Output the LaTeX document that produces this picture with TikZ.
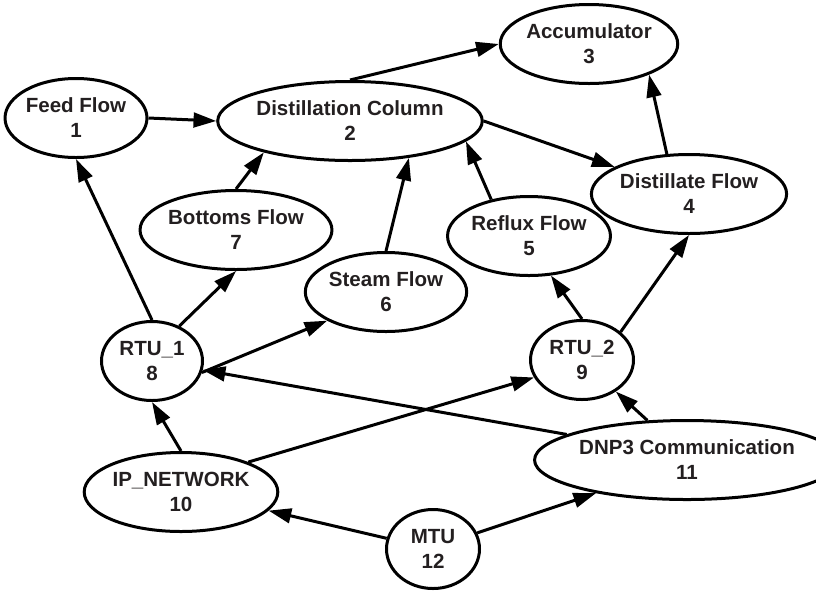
\documentclass[tikz,border=0pt]{standalone}
\usepackage{fontspec}
\setmainfont{Liberation Sans}
\usetikzlibrary{shapes.geometric,arrows.meta}
\definecolor{txt}{RGB}{35,31,32}
\begin{document}
\begin{tikzpicture}[x=0.75pt,y=-0.75pt,
  st/.style 2 args={ellipse, draw, line width=2.25pt, inner sep=0pt, align=center,
    font=\bfseries\fontsize{15.4}{18.75}\selectfont, text=txt,
    minimum width={(#1-3)*0.75pt}, minimum height={(#2-3)*0.75pt}},
  ar/.style={-{Triangle[length=17pt,width=11pt]}, line width=2.25pt}]
\useasboundingbox (0,0) rectangle (816,594);
\node[st={140}{82}] (n1) at (76,118) {Feed Flow\\1};
\node[st={228}{82}] (n2) at (350,121) {Distillation Column\\2};
\node[st={166}{82}] (n3) at (589,44) {Accumulator\\3};
\node[st={178}{82}] (n4) at (689,194) {Distillate Flow\\4};
\node[st={156}{82}] (n5) at (529,236) {Reflux Flow\\5};
\node[st={154}{82}] (n6) at (386,292) {Steam Flow\\6};
\node[st={176}{82}] (n7) at (236,230) {Bottoms Flow\\7};
\node[st={104}{82}] (n8) at (152,361) {RTU\_1\\8};
\node[st={106}{82}] (n9) at (582,360) {RTU\_2\\9};
\node[st={177}{82}] (n10) at (181,492) {IP\_NETWORK\\10};
\node[st={256}{82}] (n11) at (687,460) {DNP3 Communication\\11};
\node[st={96}{82}] (n12) at (433,549) {MTU\\12};
\draw[ar] (n1.east) -- (n2.west);
\draw[ar] (n2.north) -- (n3.west);
\draw[ar] (n2.east) -- (n4.160);
\draw[ar] (n4.119) -- (n3.-27);
\draw[ar] (n7.north) -- (n2.200);
\draw[ar] (n6.north) -- (n2.-32);
\draw[ar] (n5.136) -- (n2.-10);
\draw[ar] (n8.north) -- (n1.south);
\draw[ar] (n8.52) -- (n7.south);
\draw[ar] (n8.-13) -- (n6.206);
\draw[ar] (n9.north) -- (n5.-61);
\draw[ar] (n9.36) -- (n4.south);
\draw[ar] (n10.north) -- (n8.south);
\draw[ar] (n10.24) -- (n9.200);
\draw[ar] (n11.168) -- (n8.-10);
\draw[ar] (n11.135) -- (n9.-43);
\draw[ar] (n12.167) -- (n10.-12);
\draw[ar] (n12.20) -- (n11.200);
\end{tikzpicture}
\end{document}
